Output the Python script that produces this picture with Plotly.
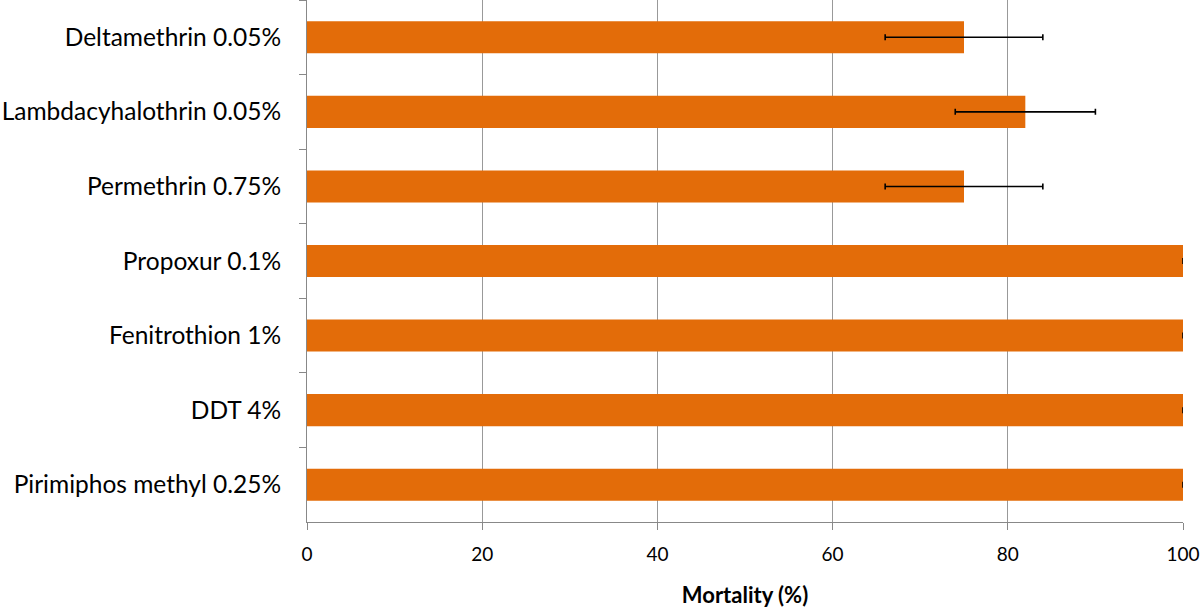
import plotly.graph_objects as go

categories = ["Deltamethrin 0.05%", "Lambdacyhalothrin 0.05%", "Permethrin 0.75%",
              "Propoxur 0.1%", "Fenitrothion 1%", "DDT 4%", "Pirimiphos methyl 0.25%"]
mortality = [75, 82, 75, 100, 100, 100, 100]
errors = [9, 8, 9, 0, 0, 0, 0]
x_ticks = [0, 20, 40, 60, 80, 100]

fig = go.Figure(go.Bar(
    y=categories, x=mortality, orientation="h",
    marker=dict(color="#E36C09", line=dict(width=0)),
    error_x=dict(type="data", array=errors, visible=True, color="black", thickness=1.6, width=3),
    width=0.43,
))

fig.update_layout(
    width=1200, height=608,
    margin=dict(l=307, r=17, t=0, b=86),
    plot_bgcolor="white", paper_bgcolor="white",
    font=dict(family="Lato", size=18, color="black"),
    showlegend=False,
)
fig.update_xaxes(
    range=[0, 100], tickvals=x_ticks, showgrid=True, gridcolor="#999999", gridwidth=1,
    showline=True, linecolor="#888888", linewidth=1,
    ticks="outside", ticklen=7, tickcolor="#888888", zeroline=False,
    tickfont=dict(size=19), ticklabelstandoff=8, automargin=False,
    title=dict(text="<b>Mortality (%)</b>", font=dict(size=22), standoff=24),
)
fig.update_yaxes(
    categoryorder="array", categoryarray=categories, autorange="reversed",
    showline=True, linecolor="#888888", linewidth=1,
    ticks="outside", ticklen=7, tickcolor="#888888", tickson="boundaries",
    tickfont=dict(size=24.5), ticklabelstandoff=20, showgrid=False, automargin=False,
)

fig.write_html("out.html", post_script="document.body.style.margin='0';",
               config={"displayModeBar": False})
